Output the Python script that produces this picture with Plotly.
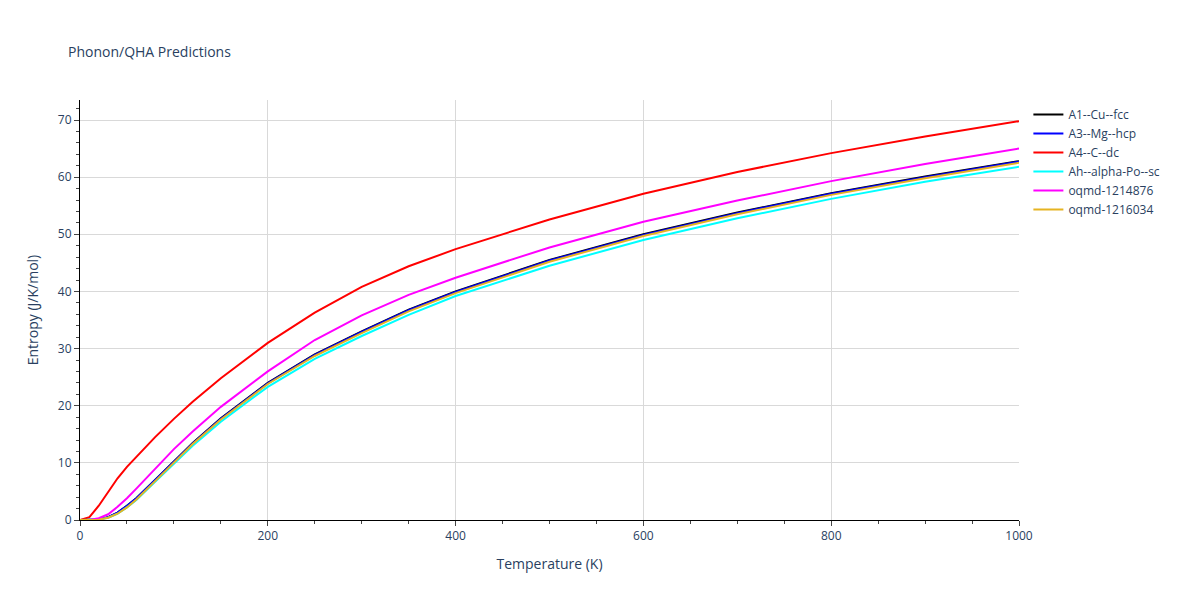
import plotly.graph_objects as go

T = [0,10,20,30,40,50,60,80,100,120,150,200,250,300,350,400,500,600,700,800,900,1000]
s_cu = [0,0,0.1,0.5,1.3,2.5,3.8,7,10.3,13.5,17.8,24,29,33,36.8,40,45.5,50,53.8,57.2,60.1,62.8]
s_mg = [0,0,0.1,0.5,1.3,2.5,3.8,7,10.2,13.4,17.7,23.9,28.9,32.9,36.7,39.9,45.4,49.9,53.7,57.1,60.0,62.7]
s_c = [0,0.5,2.5,5,7.3,9.3,11,14.5,17.7,20.7,24.8,31,36.3,40.8,44.4,47.4,52.6,57.1,60.9,64.2,67.1,69.8]
s_po = [0,0,0.1,0.4,1.1,2.2,3.5,6.7,9.9,13,17.2,23.3,28.2,32.2,35.9,39.2,44.5,49,52.8,56.2,59.2,61.8]
s_q1 = [0,0,0.3,1,2.3,3.8,5.5,9,12.4,15.5,19.8,26,31.5,35.8,39.4,42.4,47.7,52.2,55.9,59.3,62.3,65]
s_q2 = [0,0,0.05,0.4,1.1,2.2,3.6,6.8,10.1,13.3,17.6,23.8,28.7,32.7,36.5,39.7,45.2,49.7,53.5,56.9,59.8,62.5]

series = [("A1--Cu--fcc", s_cu, "black"), ("A3--Mg--hcp", s_mg, "blue"), ("A4--C--dc", s_c, "red"),
          ("Ah--alpha-Po--sc", s_po, "cyan"), ("oqmd-1214876", s_q1, "magenta"), ("oqmd-1216034", s_q2, "#e6b422")]

fig = go.Figure()
for name, y, c in series:
    fig.add_trace(go.Scatter(x=T, y=y, name=name, mode="lines", line=dict(color=c, width=2)))

ax = dict(showgrid=True, gridcolor="#d9d9d9", showline=True, linecolor="black", ticks="outside",
          minor=dict(ticks="outside", ticklen=3), zeroline=False)
fig.update_layout(
    width=1200, height=600, template="plotly_white",
    title=dict(text="Phonon/QHA Predictions", x=0.05, y=0.935, font=dict(size=14)),
    margin=dict(l=72, r=189, t=92, b=88),
    xaxis=dict(title="Temperature (K)", range=[0, 1000], **ax),
    yaxis=dict(title="Entropy (J/K/mol)", range=[0, 73.5], **ax),
    legend=dict(x=1.01, y=1, font=dict(size=12)),
)
fig.write_html("out.html")
